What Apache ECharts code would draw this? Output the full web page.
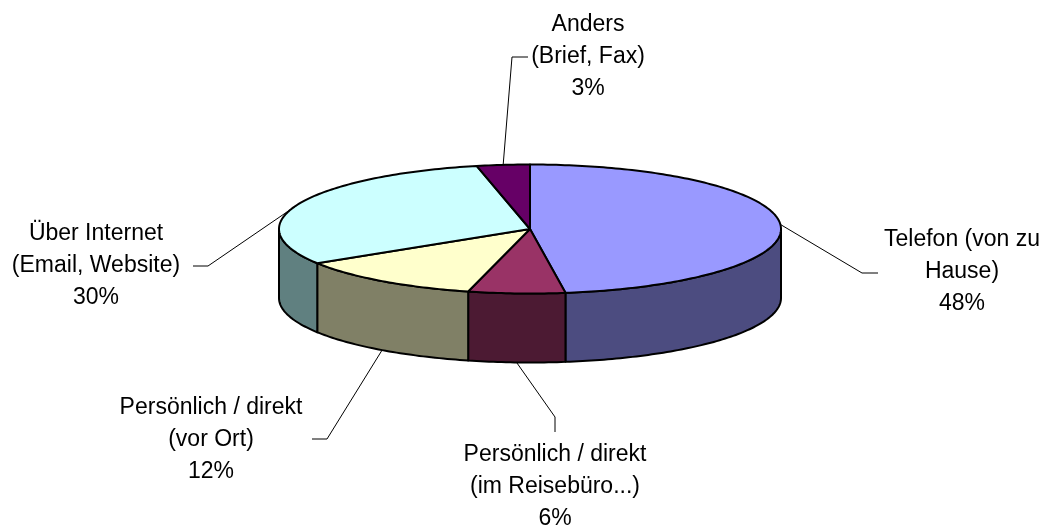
<!DOCTYPE html>
<html>
<head>
<meta charset="utf-8">
<script src="https://cdn.jsdelivr.net/npm/echarts@6/dist/echarts.min.js"></script>
<style>
  html, body { margin: 0; padding: 0; background: #fff; }
  #chart { width: 1051px; height: 528px; }
</style>
</head>
<body>
<div id="chart"></div>
<script>
const categories = [
  "Telefon (von zu\nHause)",
  "Persönlich / direkt\n(im Reisebüro...)",
  "Persönlich / direkt\n(vor Ort)",
  "Über Internet\n(Email, Website)",
  "Anders\n(Brief, Fax)",
];
const shares = [47.6, 6.2, 12.1, 30.4, 3.4];
const topColors = ["#9999ff", "#993366", "#ffffcc", "#ccffff", "#660066"];
const sideColors = ["#4c4c80", "#4c1a33", "#808066", "#608080", "#330033"];

// layout of the tilted pie (pixels)
const pie = { cx: 530, cy: 229, rx: 251, ry: 64.5, depth: 69 };
// label centres and leader elbows
const labelSpots = [
  { at: [962, 272], elbow: [[862, 273], [878, 273]] },
  { at: [555, 487], elbow: [[555, 417], [555, 432]] },
  { at: [211, 440], elbow: [[327, 439], [312, 439]] },
  { at: [96, 266], elbow: [[208, 266], [193, 266]] },
  { at: [588, 57], elbow: [[512, 57], [528, 57]] },
];

const total = shares.reduce((a, b) => a + b, 0);
let acc = 0;
const sliceData = shares.map((v) => {
  const start = (acc / total) * 360;
  acc += v;
  return [start, (acc / total) * 360];
});

function pointAt(deg, drop) {
  const r = (deg * Math.PI) / 180;
  return [pie.cx + pie.rx * Math.sin(r), pie.cy - pie.ry * Math.cos(r) + (drop || 0)];
}

function arcPoints(a0, a1, drop) {
  const pts = [];
  const n = Math.max(2, Math.ceil(Math.abs(a1 - a0)));
  for (let i = 0; i <= n; i += 1) {
    pts.push(pointAt(a0 + ((a1 - a0) * i) / n, drop));
  }
  return pts;
}

function renderSlice(params, api) {
  const i = params.dataIndex;
  const a0 = api.value(0);
  const a1 = api.value(1);
  const children = [];
  const edge = { stroke: "#000", lineWidth: 2, lineJoin: "round" };

  // front wall, only the part facing the viewer
  const s0 = Math.max(a0, 90);
  const s1 = Math.min(a1, 270);
  if (s1 > s0) {
    const wall = arcPoints(s0, s1, 0).concat(arcPoints(s1, s0, pie.depth));
    children.push({ type: "polygon", shape: { points: wall }, style: { fill: sideColors[i], ...edge } });
  }

  const top = [[pie.cx, pie.cy]].concat(arcPoints(a0, a1, 0));
  children.push({ type: "polygon", shape: { points: top }, style: { fill: topColors[i], ...edge } });

  const mid = (a0 + a1) / 2;
  const anchor = mid > 90 && mid < 270 ? pointAt(mid, pie.depth) : pointAt(mid, 0);
  const spot = labelSpots[i];
  children.push({
    type: "polyline",
    shape: { points: [anchor].concat(spot.elbow) },
    style: { stroke: "#000", lineWidth: 1, fill: null },
  });
  children.push({
    type: "text",
    x: spot.at[0],
    y: spot.at[1],
    style: {
      text: categories[i] + "\n" + Math.round((shares[i] / total) * 100) + "%",
      fill: "#000",
      font: '23px "Liberation Sans", Arial, sans-serif',
      lineHeight: 32,
      align: "center",
      verticalAlign: "middle",
    },
  });

  return { type: "group", children };
}

const chart = echarts.init(document.getElementById("chart"));
chart.setOption({
  animation: false,
  series: [
    {
      type: "custom",
      coordinateSystem: "none",
      renderItem: renderSlice,
      data: sliceData,
    },
  ],
});
</script>
</body>
</html>
